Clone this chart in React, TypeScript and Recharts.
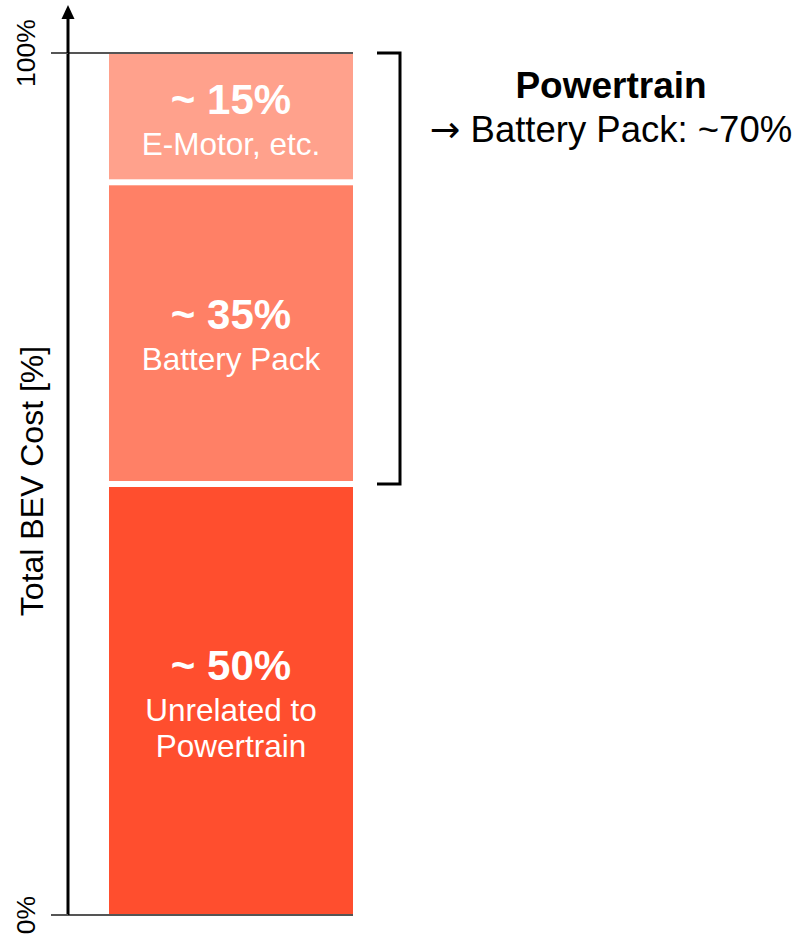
import { BarChart, Bar, XAxis, YAxis, ReferenceLine, ReferenceArea, LabelList } from 'recharts'

const categories = ['BEV']
const segmentKeys = ['unrelated', 'battery', 'emotor']
const segmentValues = [50, 35, 15]
const segmentTitles = ['~ 50%', '~ 35%', '~ 15%']
const segmentNotes = [['Unrelated to', 'Powertrain'], ['Battery Pack'], ['E-Motor, etc.']]
const segmentColors = ['#FF4E2E', '#FF8066', '#FFA18C']
const yTicks = [0, 100]
const yTickLabels = ['0%', '100%']
const axisTitle = 'Total BEV Cost [%]'
const bracketRange = [50, 100]
const bracketTitle = 'Powertrain'
const bracketArrow = '→'
const bracketNote = ' Battery Pack: ~70%'

const font = '"Liberation Sans", Arial, sans-serif'

const data = categories.map(name => {
  const row: Record<string, string | number> = { name }
  segmentKeys.forEach((k, i) => { row[k] = segmentValues[i] })
  return row
})

const GAP = 3

function Segment(props: any) {
  const { x, y, width, height, fill, trimTop, trimBottom } = props
  return <rect x={x} y={y + trimTop} width={width} height={Math.max(0, height - trimTop - trimBottom)} fill={fill} />
}

function SegmentLabel(props: any) {
  const { x, y, width, height, seg } = props
  const cx = x + width / 2
  const cy = y + height / 2
  const notes = segmentNotes[seg]
  const first = cy - 4 - (notes.length - 1) * 16
  return (
    <g fontFamily={font} fill="#fff" textAnchor="middle">
      <text x={cx} y={first} fontSize={42} fontWeight="bold">{segmentTitles[seg]}</text>
      {notes.map((n, i) => (
        <text key={n} x={cx} y={first + 41 + i * 36} fontSize={31.5}>{n}</text>
      ))}
    </g>
  )
}

function YTick(props: any) {
  const { x, y, payload } = props
  const label = yTickLabels[yTicks.indexOf(payload.value)]
  return (
    <text x={x - 14} y={y} transform={`rotate(-90, ${x - 14}, ${y})`} textAnchor="middle"
      fontFamily={font} fontSize={26.5} fill="#000">{label}</text>
  )
}

function AxisTitle(props: any) {
  const { x, y, width, height } = props.viewBox
  const ax = x + width
  const tx = ax - 25
  const ty = y + height / 2 - 3
  return (
    <g>
      <line x1={ax} y1={y} x2={ax} y2={y - 36} stroke="#000" strokeWidth={3} />
      <polygon points={`${ax - 6.5},${y - 34} ${ax + 6.5},${y - 34} ${ax},${y - 48}`} fill="#000" />
      <text x={tx} y={ty} transform={`rotate(-90, ${tx}, ${ty})`} textAnchor="middle"
        fontFamily={font} fontSize={32} fill="#000">{axisTitle}</text>
    </g>
  )
}

function Bracket(props: any) {
  const { x, y, width, height } = props
  const r = x + width
  return (
    <g>
      <path d={`M${r + 24},${y} H${r + 47} V${y + height} H${r + 24}`} fill="none" stroke="#000" strokeWidth={3} />
      <text x={r + 258} y={y + 45} textAnchor="middle" fontFamily={font} fontSize={37} fontWeight="bold" fill="#000">{bracketTitle}</text>
      <text x={r + 258} y={y + 89} textAnchor="middle" fontFamily={font} fontSize={36.5} fill="#000">
        <tspan fontFamily='"DejaVu Sans", sans-serif'>{bracketArrow}</tspan>
        <tspan>{bracketNote}</tspan>
      </text>
    </g>
  )
}

export default function App() {
  return (
    <div style={{ position: 'absolute', left: 0, top: 0, background: '#fff' }}>
      <BarChart width={803} height={935} data={data} margin={{ top: 53, right: 450, bottom: 20, left: 0 }} barCategoryGap={0}>
        <XAxis dataKey="name" hide padding={{ left: 41, right: 0 }} />
        <YAxis
          domain={[0, 100]}
          ticks={yTicks}
          width={68}
          tickSize={17}
          tickLine={{ stroke: '#555', strokeWidth: 2 }}
          axisLine={{ stroke: '#000', strokeWidth: 3 }}
          tick={<YTick />}
          label={{ content: <AxisTitle /> }}
        />
        {segmentKeys.map((k, i) => (
          <Bar
            key={k}
            dataKey={k}
            stackId="cost"
            fill={segmentColors[i]}
            isAnimationActive={false}
            shape={(p: any) => (
              <Segment {...p} trimTop={i < segmentKeys.length - 1 ? GAP : 0} trimBottom={i > 0 ? GAP : 0} />
            )}
          >
            <LabelList dataKey={k} content={(p: any) => <SegmentLabel {...p} seg={i} />} />
          </Bar>
        ))}
        {yTicks.map(t => (
          <ReferenceLine key={t} y={t} stroke="#555" strokeWidth={2} />
        ))}
        <ReferenceArea y1={bracketRange[0]} y2={bracketRange[1]} ifOverflow="visible" shape={<Bracket />} />
      </BarChart>
    </div>
  )
}
